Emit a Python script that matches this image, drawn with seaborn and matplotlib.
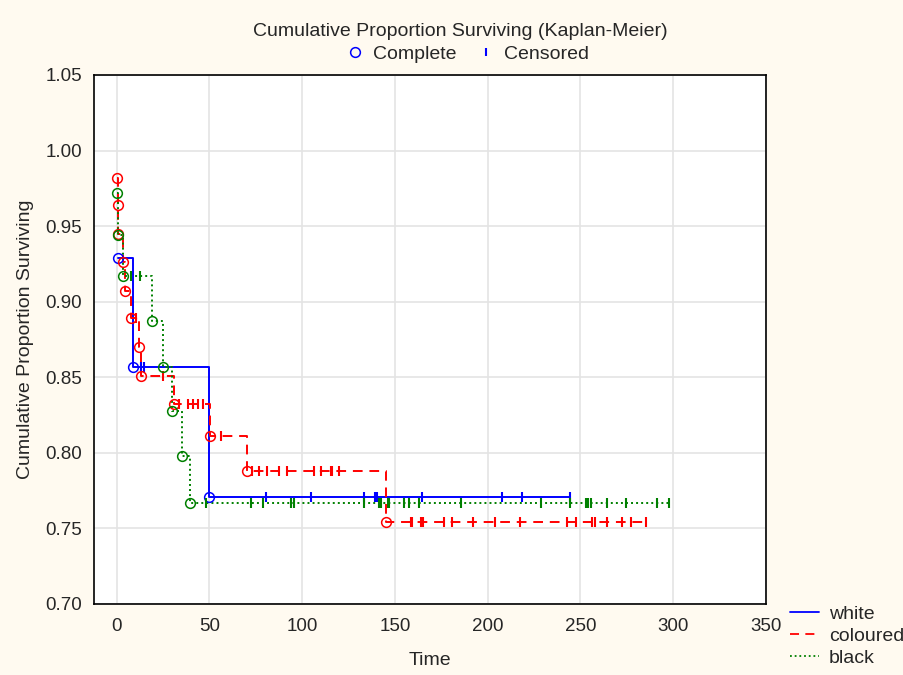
import numpy as np
import pandas as pd
import matplotlib
matplotlib.use("Agg")
import matplotlib.pyplot as plt
from matplotlib.lines import Line2D
import seaborn as sns

# ---- data ----
groups = ["white", "coloured", "black"]

white_event_t = [0.5, 9.0, 50.0]
white_event_s = [0.929, 0.857, 0.771]
white_cens_t = [13.1, 14.9, 80.4, 104.7, 133.4, 139.3, 140.5, 164.4, 207.9, 218.3, 244.3]

coloured_event_t = [0.3, 0.5, 0.7, 3.6, 4.7, 7.8, 12.2, 13.1, 31.0, 50.5, 70.5, 145.4]
coloured_event_s = [0.982, 0.964, 0.945, 0.926, 0.907, 0.889, 0.870, 0.851, 0.832, 0.811, 0.788, 0.754]
coloured_cens_t = [10.4, 24.8, 33.8, 38.2, 40.9, 43.6, 46.3, 56.2, 73.2, 76.8, 81.3, 87.6, 91.6,
                   106.5, 110.0, 115.5, 116.3, 119.9, 158.5, 159.4, 164.0, 165.2, 176.5, 180.6,
                   192.0, 203.8, 217.2, 242.9, 247.4, 256.3, 257.6, 264.4, 272.5, 277.0, 285.4]

black_event_t = [0.4, 0.6, 3.2, 18.9, 24.8, 29.6, 35.2, 39.7]
black_event_s = [0.972, 0.944, 0.917, 0.887, 0.857, 0.828, 0.798, 0.767]
black_cens_t = [7.8, 12.8, 48.1, 72.4, 79.0, 93.9, 95.7, 133.4, 141.5, 142.3, 146.0, 146.8, 155.0,
                157.6, 163.0, 185.4, 228.5, 244.3, 252.8, 254.2, 255.5, 264.4, 274.3, 291.3, 297.6]

x_ticks = [0, 50, 100, 150, 200, 250, 300, 350]
y_ticks = [0.70, 0.75, 0.80, 0.85, 0.90, 0.95, 1.00, 1.05]

# ---- styles ----
colors = {"white": "#0000FF", "coloured": "#FF0000", "black": "#008000"}
lstyles = {"white": "-", "coloured": (0, (5, 3.5)), "black": (0, (1, 1.6))}

series = {
    "white": (white_event_t, white_event_s, white_cens_t),
    "coloured": (coloured_event_t, coloured_event_s, coloured_cens_t),
    "black": (black_event_t, black_event_s, black_cens_t),
}

sns.set_style("white")
plt.rcParams["font.family"] = ["Liberation Sans", "DejaVu Sans"]

FS = 14
bg = "#FFFAF0"
fig = plt.figure(figsize=(9.04, 6.75), dpi=100, facecolor=bg)
ax = fig.add_axes([94 / 904, 1 - 604 / 675, 672 / 904, 529 / 675])
ax.set_facecolor("white")

for g in groups:
    et, es, ct = series[g]
    et = np.asarray(et); es = np.asarray(es); ct = np.asarray(ct)
    end_t = max(et.max(), ct.max())
    step = pd.DataFrame({"t": np.append(et, end_t), "s": np.append(es, es[-1])})
    sns.lineplot(data=step, x="t", y="s", ax=ax, estimator=None, sort=False,
                 drawstyle="steps-post", color=colors[g], linestyle=lstyles[g],
                 linewidth=1.4, zorder=3)
    ev = pd.DataFrame({"t": et, "s": es})
    sns.lineplot(data=ev, x="t", y="s", ax=ax, estimator=None, sort=False,
                 linestyle="", marker="o", markersize=7, markerfacecolor="none",
                 markeredgecolor=colors[g], markeredgewidth=1.1, zorder=4)
    idx = np.searchsorted(et, ct, side="right") - 1
    cs = pd.DataFrame({"t": ct, "s": es[idx]})
    sns.lineplot(data=cs, x="t", y="s", ax=ax, estimator=None, sort=False,
                 linestyle="", marker="|", markersize=6.5, markeredgewidth=1.5,
                 color=colors[g], markeredgecolor=colors[g], zorder=4)

ax.set_xlim(-12.2, 350)
ax.set_ylim(0.70, 1.05)
ax.set_xticks(x_ticks)
ax.set_yticks(y_ticks)
ax.set_yticklabels([f"{v:.2f}" for v in y_ticks])
ax.grid(True, color="#E4E4E4", linewidth=1.2)
ax.set_axisbelow(True)
ax.tick_params(direction="in", length=4, width=1, labelsize=13.5, color="black")
ax.tick_params(axis="x", pad=10)
ax.tick_params(axis="y", pad=8.5)
for sp in ax.spines.values():
    sp.set_color("black")
    sp.set_linewidth(1.2)
ax.set_xlabel("Time", fontsize=FS, labelpad=12)
ax.set_ylabel("Cumulative Proportion Surviving", fontsize=FS, labelpad=8.5)

# top legend (marker meaning)
fig.text(460 / 904, 1 - 31 / 675, "Cumulative Proportion Surviving (Kaplan-Meier)",
         ha="center", va="center", fontsize=FS)
top_handles = [
    Line2D([], [], linestyle="", marker="o", markersize=7, markerfacecolor="none",
           markeredgecolor="#0000FF", markeredgewidth=1.1),
    Line2D([], [], linestyle="", marker="|", markersize=6, markeredgewidth=1.5,
           color="#0000FF", markeredgecolor="#0000FF"),
]
fig.legend(top_handles, ["Complete", "Censored"], loc="center",
           bbox_to_anchor=(466 / 904, 1 - 54 / 675), ncol=2, frameon=False,
           fontsize=FS, handletextpad=0.35, columnspacing=0.9, handlelength=1.2,
           borderaxespad=0, borderpad=0.0)

# bottom right legend (groups)
grp_handles = [Line2D([], [], color=colors[g], linestyle=lstyles[g], linewidth=1.3) for g in groups]
fig.legend(grp_handles, groups, loc="lower right", bbox_to_anchor=(1.0, 8 / 675),
           frameon=False, fontsize=FS, handlelength=1.5, handletextpad=0.5,
           labelspacing=0.22, borderaxespad=0.0, borderpad=0.0)

fig.savefig("out.png", dpi=100, facecolor=bg)
